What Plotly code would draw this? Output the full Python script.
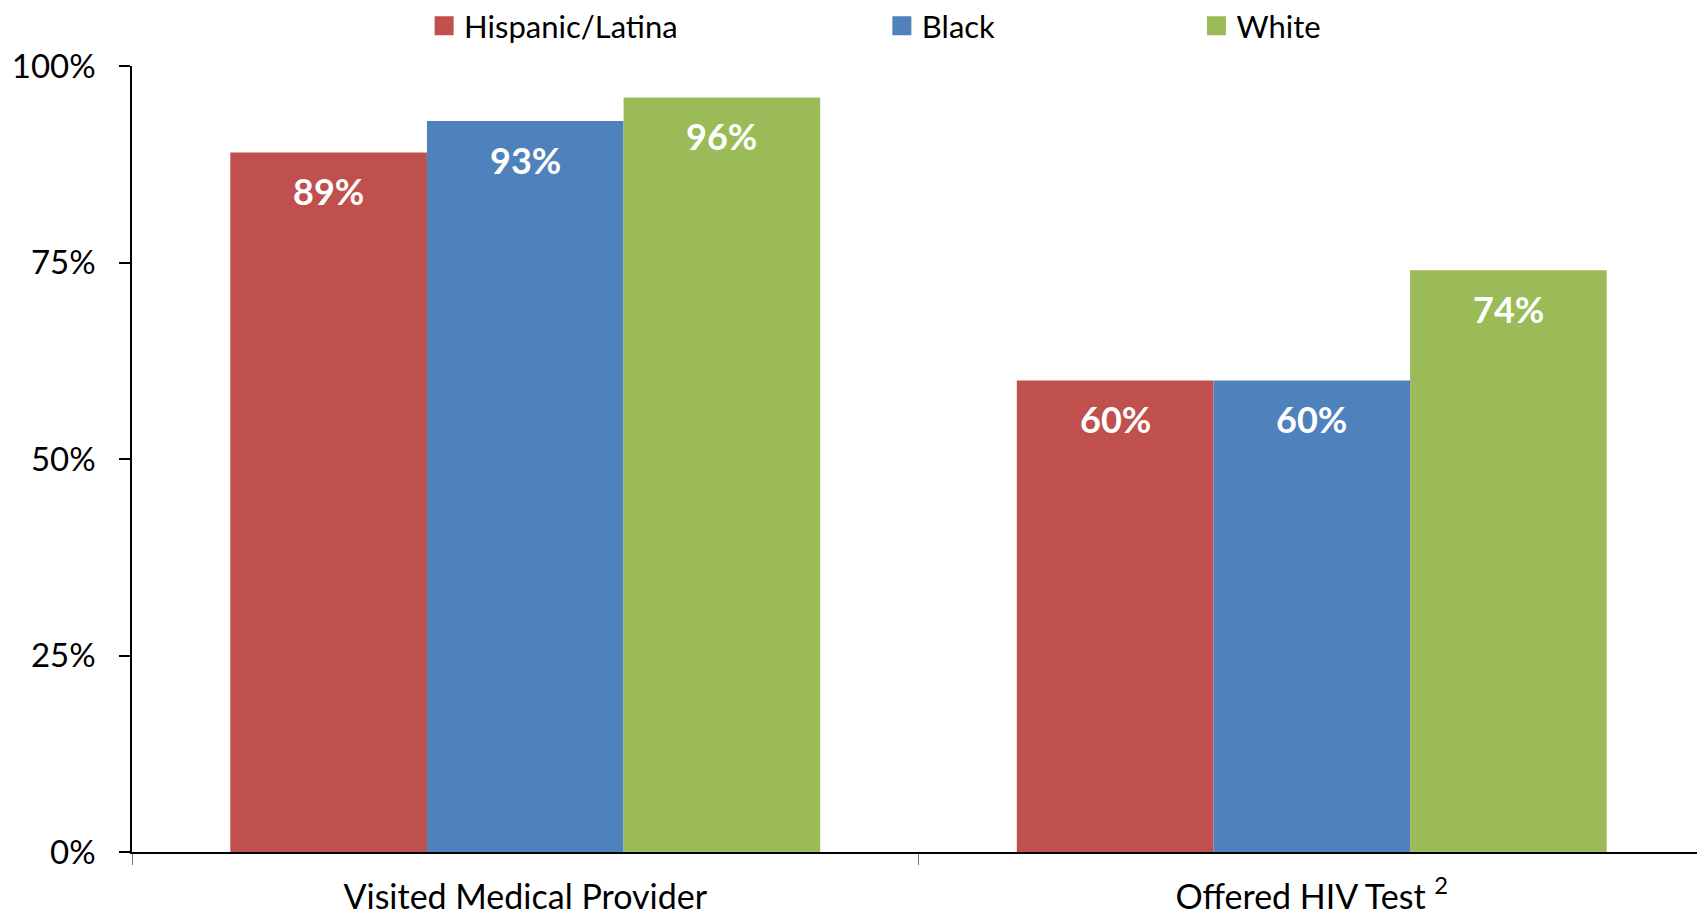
import plotly.graph_objects as go

categories = ["Visited Medical Provider", "Offered HIV Test <sup>2</sup>"]
series_names = ["Hispanic/Latina", "Black", "White"]
hispanic = [0.89, 0.60]
black = [0.93, 0.60]
white = [0.96, 0.74]
values = [hispanic, black, white]
colors = ["#C0504D", "#4F81BD", "#9BBB59"]
y_ticks = [0, 0.25, 0.5, 0.75, 1.0]

FONT = "Lato"
fig = go.Figure()

legend_names = ["legend", "legend2", "legend3"]
for name, vals, col in zip(series_names, values, colors):
    fig.add_trace(go.Bar(x=categories, y=vals, name=name, marker_color=col,
                         marker_line_width=0, showlegend=False))

for name, col, lg in zip(series_names, colors, legend_names):
    fig.add_trace(go.Scatter(x=[None], y=[None], mode="markers", name=name,
                             marker=dict(symbol="square", size=16, color=col,
                                         line=dict(color=col, width=3)),
                             legend=lg, showlegend=True))

# value labels inside top of bars
n = len(series_names)
width = 0.75 / n
for j, vals in enumerate(values):
    for i, v in enumerate(vals):
        fig.add_annotation(x=i + (j - (n - 1) / 2) * width, y=v, xref="x", yref="y",
                           text=f"<b>{round(v*100)}%</b>", showarrow=False,
                           yanchor="middle", yshift=-39,
                           font=dict(family=FONT, size=36, color="white"))

leg_common = dict(orientation="h", yref="container", yanchor="middle", y=0.9802,
                  xanchor="left",
                  font=dict(family=FONT, size=31, color="black"),
                  bgcolor="rgba(0,0,0,0)", borderwidth=0)

fig.update_layout(
    width=1697, height=908,
    margin=dict(l=124, r=0, t=58, b=64),
    paper_bgcolor="white", plot_bgcolor="white",
    barmode="group", bargap=0.25, bargroupgap=0,
    font=dict(family=FONT, color="black"),
    legend=dict(x=0.1857, **leg_common),
    legend2=dict(x=0.4767, **leg_common),
    legend3=dict(x=0.6767, **leg_common),
    xaxis=dict(type="category", showline=True, linecolor="black", linewidth=1.5,
               ticks="outside", tickson="boundaries", ticklen=11, tickcolor="#777",
               tickwidth=1, showgrid=False, ticklabelstandoff=14, automargin=False,
               tickfont=dict(family=FONT, size=34, color="black")),
    yaxis=dict(range=[0, 1], tickvals=y_ticks, tickformat=".0%", showline=True,
               linecolor="black", linewidth=1.5, ticks="outside", ticklen=11,
               tickcolor="black", tickwidth=1.5, showgrid=False, zeroline=False,
               ticklabelstandoff=17, automargin=False,
               tickfont=dict(family=FONT, size=33, color="black")),
)

fig.write_html("out.html")
